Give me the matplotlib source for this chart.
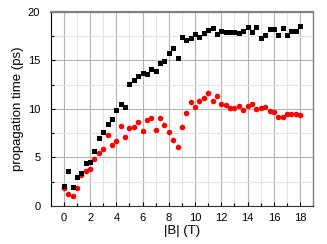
import numpy as np
import matplotlib.pyplot as plt
from matplotlib.ticker import MultipleLocator

plt.rcParams['font.family'] = ['Liberation Sans', 'DejaVu Sans']

# field values, 1/3 T steps from 0 to 18 T
B = np.arange(55) / 3.0

t_black = [2.03, 3.6, 2.0, 2.95, 3.43, 4.47, 4.5, 5.64, 7.0, 7.63,
           8.45, 9.0, 9.86, 10.55, 10.24, 12.6, 12.95, 13.4, 13.7, 13.6,
           14.15, 13.95, 14.7, 14.9, 15.8, 16.3, 15.3, 17.45, 17.1, 17.35,
           17.77, 17.4, 17.87, 18.14, 18.35, 17.7, 18.04, 17.9, 17.9, 17.9,
           17.87, 18.04, 18.49, 17.97, 18.45, 17.3, 17.66, 18.2, 18.2, 17.6,
           18.35, 17.6, 18.04, 18.04, 18.56]

t_red = [1.85, 1.22, 1.05, 1.89, 3.16, 3.6, 3.85, 4.8, 5.5, 5.84,
         7.35, 6.32, 6.73, 8.2, 7.15, 8.04, 8.18, 8.66, 7.73, 8.87,
         9.04, 7.8, 9.04, 8.35, 7.66, 6.84, 6.08, 8.14, 9.57, 10.72,
         10.18, 10.78, 11.13, 11.65, 10.82, 11.34, 10.55, 10.38, 10.14, 10.14,
         10.31, 9.9, 10.31, 10.48, 10.0, 10.07, 10.24, 9.8, 9.69, 9.18,
         9.18, 9.45, 9.52, 9.48, 9.35]

fig = plt.figure(figsize=(3.27, 2.44), dpi=100)
ax = fig.add_axes([0.155, 0.156, 0.803, 0.795])

ax.plot(B, t_red, 'o', color='red', markersize=4, markeredgewidth=0)
ax.plot(B, t_black, 's', color='black', markersize=3.6, markeredgewidth=0)

ax.set_xlim(-1, 19)
ax.set_ylim(0, 20)
ax.xaxis.set_major_locator(MultipleLocator(2))
ax.xaxis.set_minor_locator(MultipleLocator(1))
ax.yaxis.set_major_locator(MultipleLocator(5))
ax.yaxis.set_minor_locator(MultipleLocator(2.5))

ax.grid(which='major', color='#b4b4b4', linewidth=0.8)
ax.grid(which='minor', color='#e4e4e4', linewidth=0.8)
ax.set_axisbelow(True)

ax.tick_params(which='both', direction='in', labelsize=8, top=False, right=False)
ax.tick_params(which='major', length=3, width=0.8)
ax.tick_params(which='minor', length=2, width=0.8)
ax.tick_params(axis='y', which='major', pad=7.5)
ax.tick_params(axis='x', which='major', pad=5)

ax.spines['left'].set_color('black')
ax.spines['bottom'].set_color('#333333')
for s in ['top', 'right']:
    ax.spines[s].set_color('#808080')
ax.spines['top'].set_linewidth(1.6)
ax.spines['right'].set_linewidth(1.0)

ax.set_xlabel('|B| (T)', fontsize=9.5, labelpad=1.5)
ax.set_ylabel('propagation time (ps)', fontsize=9.5, labelpad=3)

fig.savefig('out.png', dpi=100)
